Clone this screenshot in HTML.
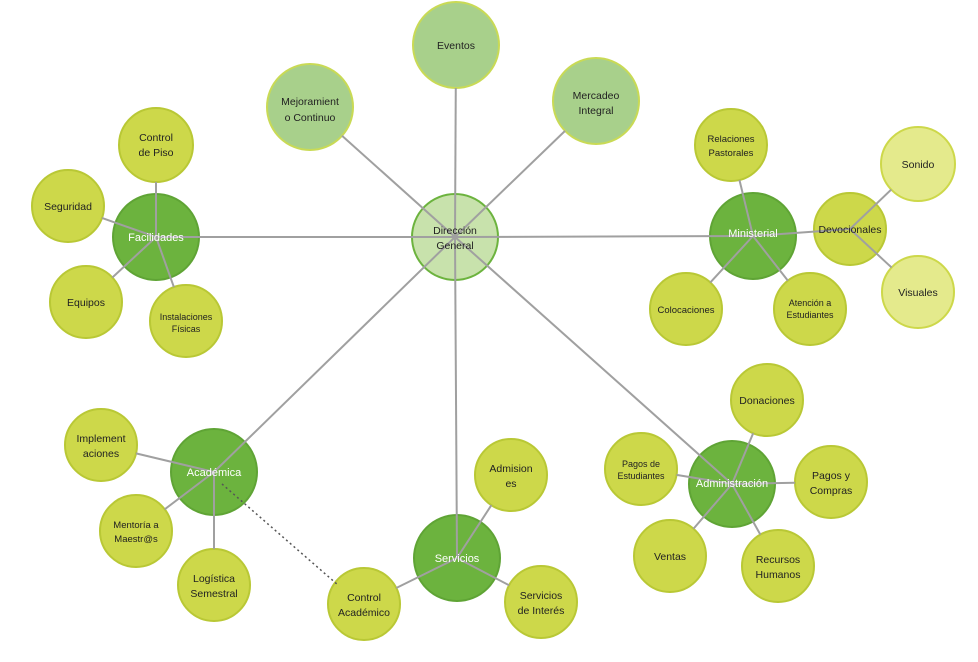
<!DOCTYPE html>
<html><head><meta charset="utf-8"><style>
html,body{margin:0;padding:0;background:#fff;width:978px;height:662px;overflow:hidden}
svg text{font-family:"Liberation Sans",sans-serif;font-size:10.5px;fill:#222;text-anchor:middle}
svg text.w{fill:#fff;font-size:11px}
</style></head><body>
<svg id="s" width="978" height="662" viewBox="0 0 978 662">
<g id="circ">
<circle cx="456" cy="45" r="43" fill="#a8d08b" stroke="#c9da55" stroke-width="2"/>
<circle cx="310" cy="107" r="43" fill="#a8d08b" stroke="#c9da55" stroke-width="2"/>
<circle cx="596" cy="101" r="43" fill="#a8d08b" stroke="#c9da55" stroke-width="2"/>
<circle cx="455" cy="237" r="43" fill="#c8e2ac" stroke="#6cb33e" stroke-width="2"/>
<circle cx="156" cy="237" r="43" fill="#6cb33e" stroke="#5fa435" stroke-width="2"/>
<circle cx="753" cy="236" r="43" fill="#6cb33e" stroke="#5fa435" stroke-width="2"/>
<circle cx="214" cy="472" r="43" fill="#6cb33e" stroke="#5fa435" stroke-width="2"/>
<circle cx="457" cy="558" r="43" fill="#6cb33e" stroke="#5fa435" stroke-width="2"/>
<circle cx="732" cy="484" r="43" fill="#6cb33e" stroke="#5fa435" stroke-width="2"/>
<g fill="#cdd84a" stroke="#b9c835" stroke-width="2">
<circle cx="156" cy="145" r="37"/><circle cx="68" cy="206" r="36"/><circle cx="86" cy="302" r="36"/><circle cx="186" cy="321" r="36"/>
<circle cx="731" cy="145" r="36"/><circle cx="850" cy="229" r="36"/><circle cx="686" cy="309" r="36"/><circle cx="810" cy="309" r="36"/>
<circle cx="101" cy="445" r="36"/><circle cx="136" cy="531" r="36"/><circle cx="214" cy="585" r="36"/>
<circle cx="511" cy="475" r="36"/><circle cx="541" cy="602" r="36"/><circle cx="364" cy="604" r="36"/>
<circle cx="767" cy="400" r="36"/><circle cx="641" cy="469" r="36"/><circle cx="831" cy="482" r="36"/><circle cx="670" cy="556" r="36"/><circle cx="778" cy="566" r="36"/>
</g>
<circle cx="918" cy="164" r="37" fill="#e4ea8c" stroke="#cdd84a" stroke-width="2"/>
<circle cx="918" cy="292" r="36" fill="#e4ea8c" stroke="#cdd84a" stroke-width="2"/>
</g>
<g id="lines" stroke="#a0a0a0" stroke-width="2" fill="none"></g>
<line x1="222" y1="484" x2="338" y2="585" stroke="#555" stroke-width="1.5" stroke-dasharray="2,3"/>
<text x="456" y="49">Eventos</text>
<text x="310" y="105">Mejoramient</text><text x="310" y="121">o Continuo</text>
<text x="596" y="99">Mercadeo</text><text x="596" y="114">Integral</text>
<text x="455" y="234">Dirección</text><text x="455" y="249">General</text>
<text class="w" x="156" y="241">Facilidades</text>
<text x="156" y="141">Control</text><text x="156" y="156">de Piso</text>
<text x="68" y="210">Seguridad</text>
<text x="86" y="306">Equipos</text>
<text x="186" y="320" style="font-size:9px">Instalaciones</text><text x="186" y="332" style="font-size:9px">Físicas</text>
<text class="w" x="753" y="237">Ministerial</text>
<text x="731" y="142" style="font-size:9.5px">Relaciones</text><text x="731" y="156" style="font-size:9.5px">Pastorales</text>
<text x="850" y="233">Devocionales</text>
<text x="918" y="168">Sonido</text>
<text x="918" y="296">Visuales</text>
<text x="686" y="313" style="font-size:9.5px">Colocaciones</text>
<text x="810" y="306" style="font-size:9px">Atención a</text><text x="810" y="318" style="font-size:9px">Estudiantes</text>
<text class="w" x="214" y="476">Académica</text>
<text x="101" y="442">Implement</text><text x="101" y="457">aciones</text>
<text x="136" y="528" style="font-size:9.5px">Mentoría a</text><text x="136" y="542" style="font-size:9.5px">Maestr@s</text>
<text x="214" y="582">Logística</text><text x="214" y="597">Semestral</text>
<text class="w" x="457" y="562">Servicios</text>
<text x="511" y="472">Admision</text><text x="511" y="487">es</text>
<text x="541" y="599">Servicios</text><text x="541" y="614">de Interés</text>
<text x="364" y="601">Control</text><text x="364" y="616">Académico</text>
<text class="w" x="732" y="487">Administración</text>
<text x="767" y="404">Donaciones</text>
<text x="641" y="467" style="font-size:9px">Pagos de</text><text x="641" y="479" style="font-size:9px">Estudiantes</text>
<text x="831" y="479">Pagos y</text><text x="831" y="494">Compras</text>
<text x="670" y="560">Ventas</text>
<text x="778" y="563">Recursos</text><text x="778" y="578">Humanos</text>
</svg>
<script>
var L=[
[455,237,456,45,43],[455,237,310,107,43],[455,237,596,101,43],[455,237,156,237,0],[455,237,753,236,0],[455,237,214,472,0],[455,237,457,558,0],[455,237,732,484,0],
[156,237,156,145,37],[156,237,68,206,36],[156,237,86,302,36],[156,237,186,321,36],
[753,236,731,145,36],[753,236,850,229,0],[753,236,686,309,36],[753,236,810,309,36],
[850,229,918,164,37],[850,229,918,292,36],
[214,472,101,445,36],[214,472,136,531,36],[214,472,214,585,36],
[457,558,511,475,36],[457,558,541,602,36],[457,558,364,604,36],
[732,484,767,400,36],[732,484,641,469,36],[732,484,831,482,36],[732,484,670,556,36],[732,484,778,566,36]];
var g=document.getElementById('lines'),ns='http://www.w3.org/2000/svg';
L.forEach(function(a){var dx=a[2]-a[0],dy=a[3]-a[1],d=Math.hypot(dx,dy),x2=a[2]-dx/d*a[4],y2=a[3]-dy/d*a[4];
var l=document.createElementNS(ns,'line');l.setAttribute('x1',a[0]);l.setAttribute('y1',a[1]);l.setAttribute('x2',x2);l.setAttribute('y2',y2);g.appendChild(l);});
</script>
</body></html>
